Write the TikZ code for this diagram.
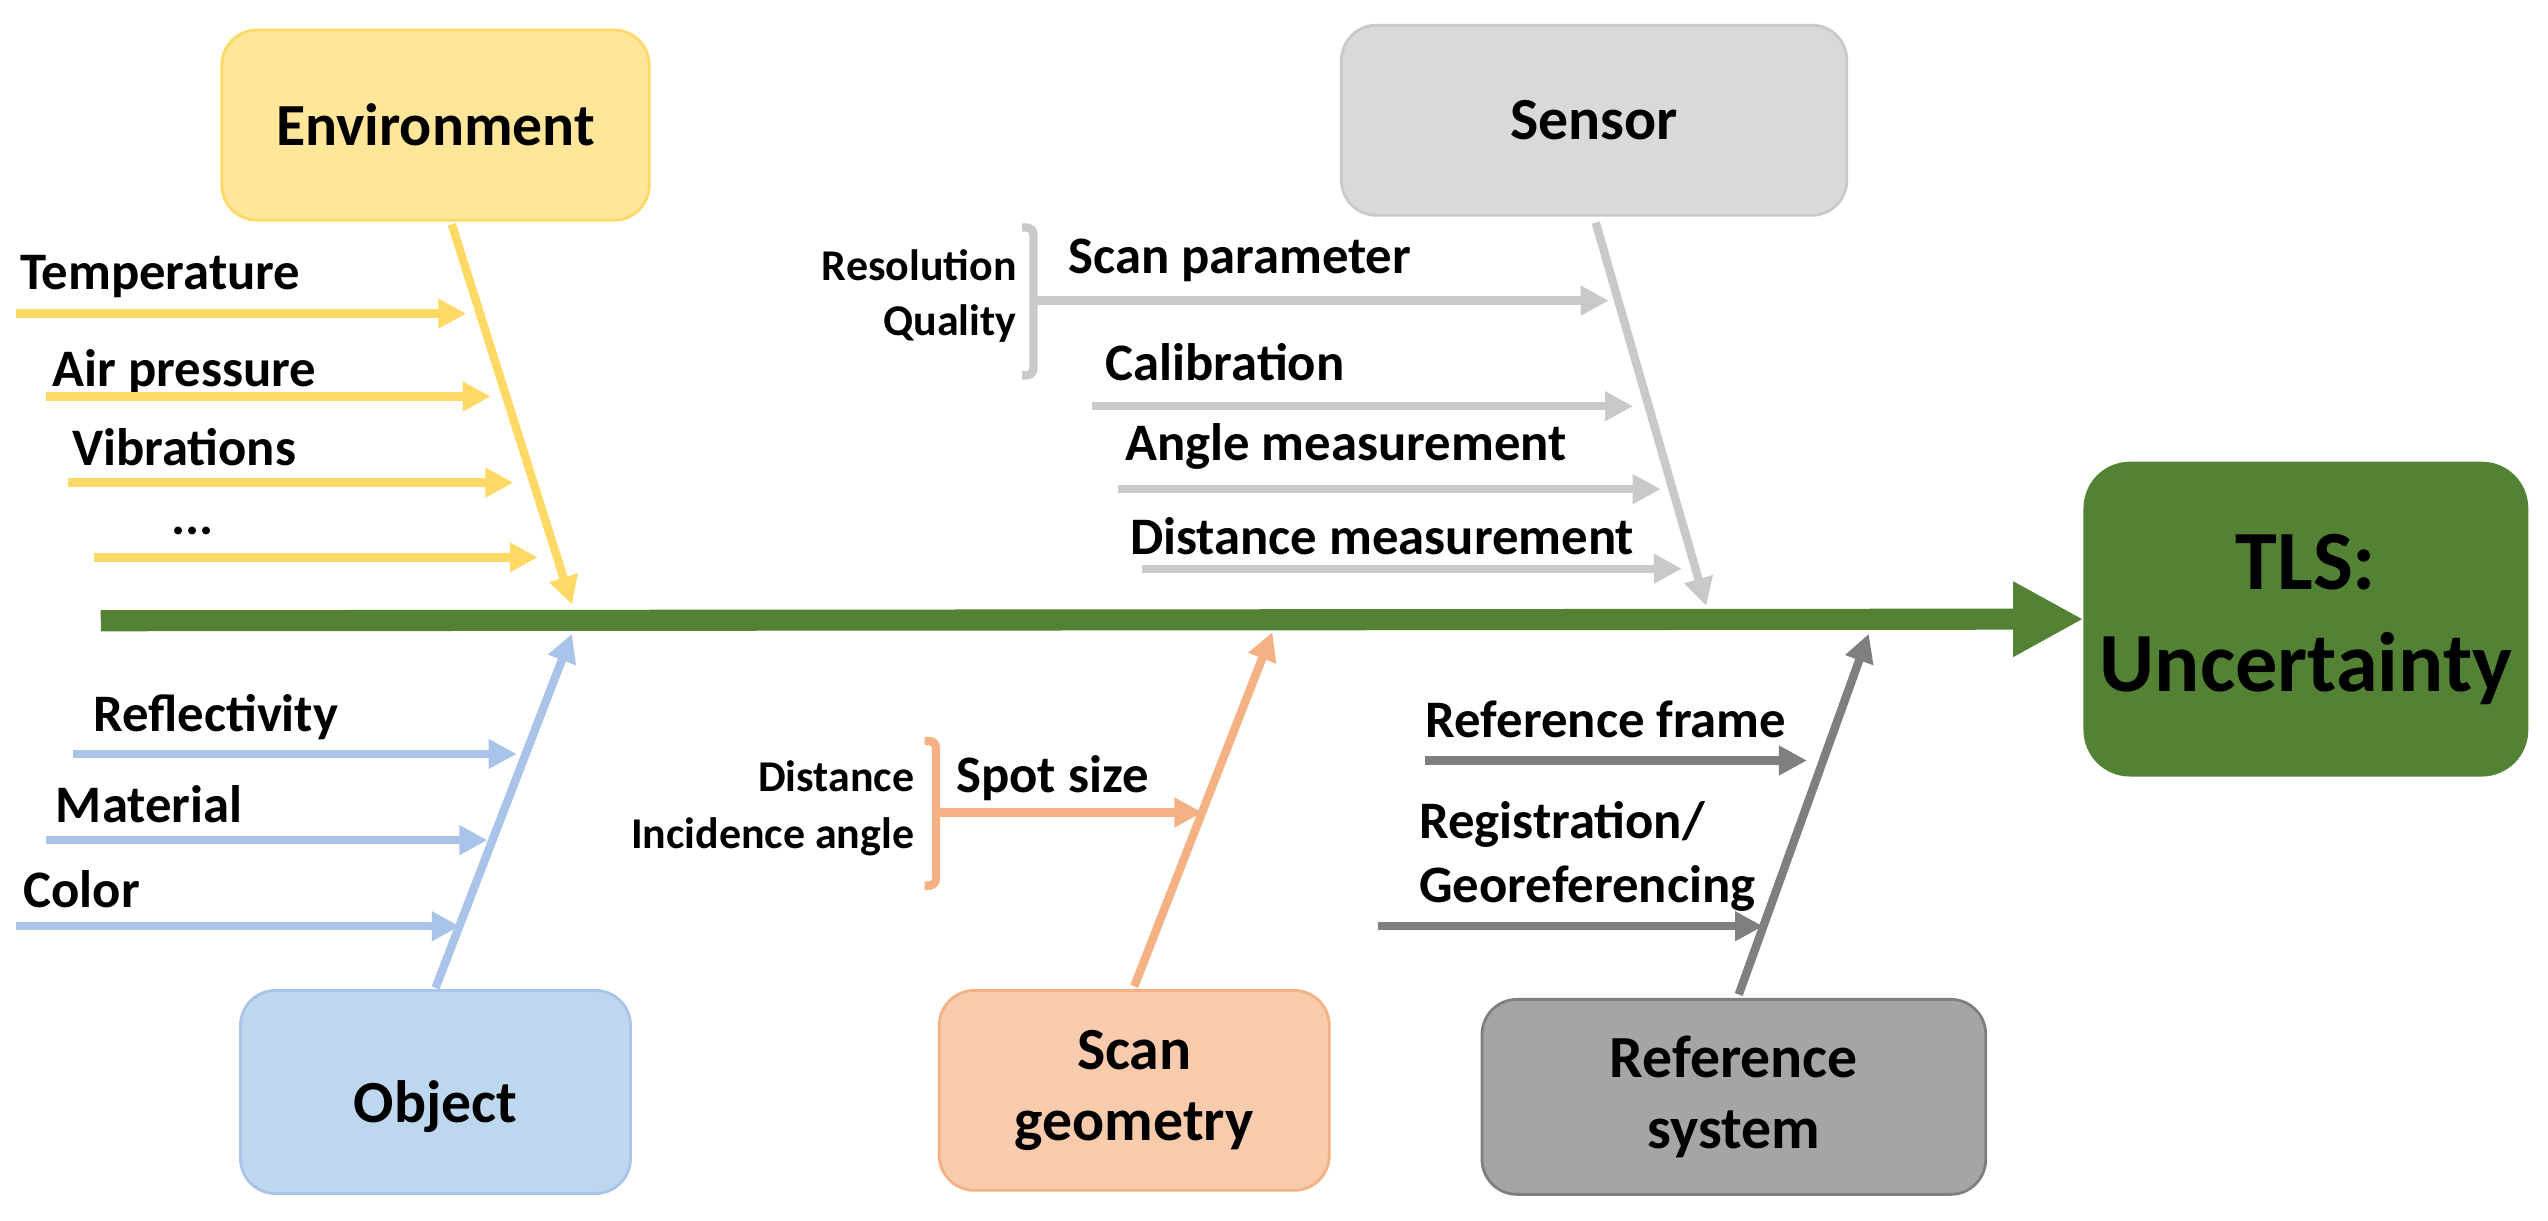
\documentclass[tikz,border=0pt]{standalone}
\usepackage{fontspec}
\setmainfont{Carlito}
\usetikzlibrary{arrows.meta}
\definecolor{envF}{HTML}{FFE699}\definecolor{envL}{HTML}{FFD966}
\definecolor{senF}{HTML}{D9D9D9}\definecolor{senL}{HTML}{C9C9C9}
\definecolor{objF}{HTML}{BDD7EE}\definecolor{objL}{HTML}{A9C4E8}
\definecolor{scF}{HTML}{F8CBAD}\definecolor{scL}{HTML}{F4B183}
\definecolor{refF}{HTML}{A5A5A5}\definecolor{refL}{HTML}{7F7F7F}
\definecolor{tls}{HTML}{548235}
\begin{document}
\begin{tikzpicture}[x=0.01625cm,y=-0.01625cm,
 box/.style={draw=#1,rounded corners=0.35cm,line width=0.8pt,minimum width=0,inner sep=0,align=center,font=\fontsize{17}{20}\selectfont\bfseries},
 lab/.style={anchor=west,inner sep=0,font=\fontsize{15}{18}\selectfont\bfseries},
 sl/.style={anchor=east,inner sep=0,align=right,font=\fontsize{12.5}{19}\selectfont\bfseries},
 ar/.style={draw=#1,line width=2.4pt,-{Triangle[length=8pt,width=8pt]}},
 br/.style={draw=#1,line width=2.4pt,rounded corners=2pt}]
\useasboundingbox (0,0) rectangle (1568,751);
% boxes
\node[box=envL,fill=envF,minimum width=263*0.01625cm,minimum height=117*0.01625cm] (env) at (268,77) {Environment};
\node[box=senL,fill=senF,minimum width=311*0.01625cm,minimum height=117*0.01625cm] (sen) at (981,74) {Sensor};
\node[box=objL,fill=objF,minimum width=240*0.01625cm,minimum height=125*0.01625cm] (obj) at (268,672) {\\Object};
\node[box=scL,fill=scF,minimum width=240*0.01625cm,minimum height=123*0.01625cm] (sc) at (698,671) {Scan\\geometry};
\node[box=refL,fill=refF,minimum width=310*0.01625cm,minimum height=120*0.01625cm] (ref) at (1067,675) {Reference\\system};
\node[box=tls,fill=tls,rounded corners=0.45cm,minimum width=272*0.01625cm,minimum height=192*0.01625cm,font=\fontsize{24}{29}\selectfont\bfseries] (tls) at (1419,381) {TLS:\\Uncertainty};
% spine
\coordinate (s0) at (62,382);
\draw[draw=tls,line width=6pt,-{Triangle[length=20pt,width=20pt]}] (s0) -- (tls.west);
% coordinates for bones
\coordinate (e1) at (278,138); \coordinate (e2) at (352,372);
\coordinate (o1) at (268,608); \coordinate (o2) at (352,390);
\coordinate (n1) at (982,137); \coordinate (n2) at (1050,373);
\coordinate (g1) at (698,607); \coordinate (g2) at (783,389);
\coordinate (r1) at (1070,612); \coordinate (r2) at (1150,390);
\draw[ar=envL] (e1) -- (e2);
\draw[ar=objL] (o1) -- (o2);
\draw[ar=senL] (n1) -- (n2);
\draw[ar=scL] (g1) -- (g2);
\draw[ar=refL] (r1) -- (r2);
% environment
\node[lab] (t1) at (12,170) {Temperature};
\node[lab] (t2) at (32,229) {Air pressure};
\node[lab] (t3) at (44,275) {Vibrations};
\node[lab] (t4) at (105,327) {...};
\coordinate (a1) at (10,193); \coordinate (b1) at (287,193);
\coordinate (a2) at (28,244); \coordinate (b2) at (302,244);
\coordinate (a3) at (42,297); \coordinate (b3) at (316,297);
\coordinate (a4) at (58,343); \coordinate (b4) at (331,343);
\foreach \i in {1,...,4} \draw[ar=envL] (a\i) -- (b\i);
% object
\node[lab] (u1) at (57,441) {Reflectivity};
\node[lab] (u2) at (34,495) {Material};
\node[lab] (u3) at (14,547) {Color};
\coordinate (c1) at (45,464); \coordinate (d1) at (318,464);
\coordinate (c2) at (28,517); \coordinate (d2) at (300,517);
\coordinate (c3) at (10,570); \coordinate (d3) at (283,570);
\foreach \i in {1,...,3} \draw[ar=objL] (c\i) -- (d\i);
% sensor
\node[lab] (v1) at (657,160) {Scan parameter};
\node[lab] (v2) at (680,223) {Calibration};
\node[lab] (v3) at (692,275) {Angle measurement};
\node[lab] (v4) at (695,330) {Distance measurement};
\coordinate (f1) at (636,185); \coordinate (h1) at (990,185);
\coordinate (f2) at (672,250); \coordinate (h2) at (1005,250);
\coordinate (f3) at (688,301); \coordinate (h3) at (1022,301);
\coordinate (f4) at (703,350); \coordinate (h4) at (1035,350);
\foreach \i in {1,...,4} \draw[ar=senL] (f\i) -- (h\i);
\draw[br=senL] (629,140) -- (636,140) -- (636,231) -- (629,231);
\node[sl] (w1) at (626,163) {Resolution};
\node[sl] (w2) at (626,199) {Quality};
% scan geometry
\node[lab] (x1) at (588,479) {Spot size};
\coordinate (k1) at (576,500); \coordinate (m1) at (740,500);
\draw[ar=scL] (k1) -- (m1);
\draw[br=scL] (569,456) -- (576,456) -- (576,545) -- (569,545);
\node[sl] (y1) at (563,478) {Distance};
\node[sl] (y2) at (563,515) {Incidence angle};
% reference
\node[lab] (z1) at (877,443) {Reference frame};
\node[lab,align=left] (z2) at (873,527) {Registration/\\Georeferencing};
\coordinate (p1) at (877,468); \coordinate (q1) at (1112,468);
\coordinate (p2) at (848,570); \coordinate (q2) at (1085,570);
\draw[ar=refL] (p1) -- (q1);
\draw[ar=refL] (p2) -- (q2);
\end{tikzpicture}
\end{document}
